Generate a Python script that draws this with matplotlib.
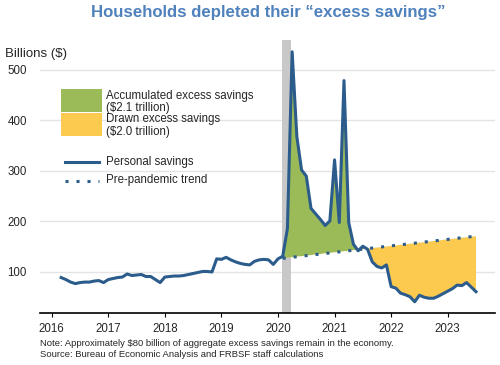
import numpy as np
import matplotlib.pyplot as plt
from matplotlib.patches import Rectangle, Polygon
from matplotlib.lines import Line2D

plt.rcParams['font.family'] = ['Liberation Sans', 'DejaVu Sans']

# monthly personal savings, billions of dollars (Mar 2016 - Jul 2023)
first_month = (2016, 3)
savings_2016 = [89, 85, 80, 77, 79, 80, 80, 82, 83, 79]
savings_2017 = [85, 87, 89, 90, 96, 93, 94, 95, 91, 91, 85, 79]
savings_2018 = [90, 91, 92, 92, 93, 95, 97, 99, 101, 101, 100, 126]
savings_2019 = [125, 129, 124, 120, 117, 115, 114, 121, 124, 125, 124, 115]
savings_2020 = [126, 131, 186, 536, 368, 302, 290, 226, 215, 204, 192, 201]
savings_2021 = [322, 198, 479, 198, 155, 142, 151, 145, 120, 111, 108, 114]
savings_2022 = [71, 68, 58, 55, 51, 41, 54, 50, 48, 48, 52, 57]
savings_2023 = [62, 67, 74, 73, 79, 70, 61]

# pre-pandemic trend (straight line), start and end
trend_months = [(2020, 2), (2023, 7)]
trend_values = [127, 171]

recession = [(2020, 2), (2020, 4)]
years = [2016, 2017, 2018, 2019, 2020, 2021, 2022, 2023]

BLUE = '#2b5c8c'
GREEN = '#9bbb59'
YELLOW = '#fdca50'


def to_year(ym):
    return ym[0] + (ym[1] - 1) / 12.0


savings = np.array(savings_2016 + savings_2017 + savings_2018 + savings_2019
                   + savings_2020 + savings_2021 + savings_2022 + savings_2023, float)
t = to_year(first_month) + np.arange(len(savings)) / 12.0
tx = [to_year(m) for m in trend_months]

fig = plt.figure(figsize=(5, 3.65), dpi=100)
ax = fig.add_axes([0.08, 0.1425, 0.91, 0.748])


def px(x, y):
    return x / 500.0, 1 - y / 365.0


ax.axvspan(to_year(recession[0]) - 0.02, to_year(recession[1]) - 0.02,
           color='#c8c8c8', lw=0, zorder=1)

# area between savings and trend, split above / below the trend
i0 = int(round((tx[0] - t[0]) * 12))
poly_x = list(t[i0:]) + [tx[1], tx[0]]
poly_y = list(savings[i0:]) + [trend_values[1], trend_values[0]]
verts = np.column_stack([poly_x, poly_y])
for color, far in [(GREEN, 1e4), (YELLOW, -1e4)]:
    area = Polygon(verts, closed=True, facecolor=color, edgecolor='none', zorder=2)
    ax.add_patch(area)
    clip = Polygon([(tx[0], trend_values[0]), (tx[1], trend_values[1]),
                    (tx[1], far), (tx[0], far)], closed=True,
                   transform=ax.transData, visible=False)
    ax.add_patch(clip)
    area.set_clip_path(clip)

ax.plot(tx, trend_values, color=BLUE, lw=2.2, ls=(0, (1, 2.6)), zorder=3)
ax.plot(t, savings, color=BLUE, lw=2.2, zorder=4, solid_joinstyle='round')

ax.set_xlim(2015.793, 2023.836)
ax.set_ylim(18.8, 559.4)
ax.set_yticks([100, 200, 300, 400, 500])
ax.set_xticks(years)
ax.set_xticklabels([str(y) for y in years])
ax.grid(axis='y', color='#e4e4e4', lw=1.0)
ax.set_axisbelow(True)
for s in ['top', 'right', 'left']:
    ax.spines[s].set_visible(False)
ax.spines['bottom'].set_linewidth(1.2)
ax.tick_params(axis='y', length=0, pad=9.5, labelsize=8.3, labelcolor='#262626')
ax.tick_params(axis='x', length=3, width=0.8, pad=4, labelsize=8.3, labelcolor='#262626')

fig.text(*px(268.5, 12), 'Households depleted their \u201cexcess savings\u201d',
         ha='center', va='center', fontsize=12.1, fontweight='bold', color='#4f81bd')
fig.text(*px(5, 54), 'Billions ($)', ha='left', va='center', fontsize=9.5, color='#262626')

# legend drawn by hand
for (y0, y1), c in [((89.3, 112.3), GREEN), ((113.3, 136.3), YELLOW)]:
    x0, yb = px(61, y1)
    fig.patches.append(Rectangle((x0, yb), 41 / 500.0, (y1 - y0) / 365.0,
                                 transform=fig.transFigure, facecolor=c,
                                 edgecolor='none', figure=fig))
legend_text = [(95.5, 'Accumulated excess savings'), (108, '($2.1 trillion)'),
               (119.5, 'Drawn excess savings'), (131.5, '($2.0 trillion)'),
               (161.5, 'Personal savings'), (180, 'Pre-pandemic trend')]
for y, s in legend_text:
    fig.text(*px(106, y), s, ha='left', va='center', fontsize=8.3, color='#262626')
for y, ls in [(161.7, '-'), (180.7, (0, (1, 2.6)))]:
    xa, ya = px(65, y)
    xb, _ = px(99, y)
    fig.lines.append(Line2D([xa, xb], [ya, ya], transform=fig.transFigure,
                            color=BLUE, lw=2.2, ls=ls, figure=fig))

fig.text(*px(40, 343), 'Note: Approximately $80 billion of aggregate excess savings remain in the economy.',
         ha='left', va='center', fontsize=6.8, color='#262626')
fig.text(*px(40, 354.5), 'Source: Bureau of Economic Analysis and FRBSF staff calculations',
         ha='left', va='center', fontsize=6.8, color='#262626')

fig.savefig('out.png', dpi=100)
